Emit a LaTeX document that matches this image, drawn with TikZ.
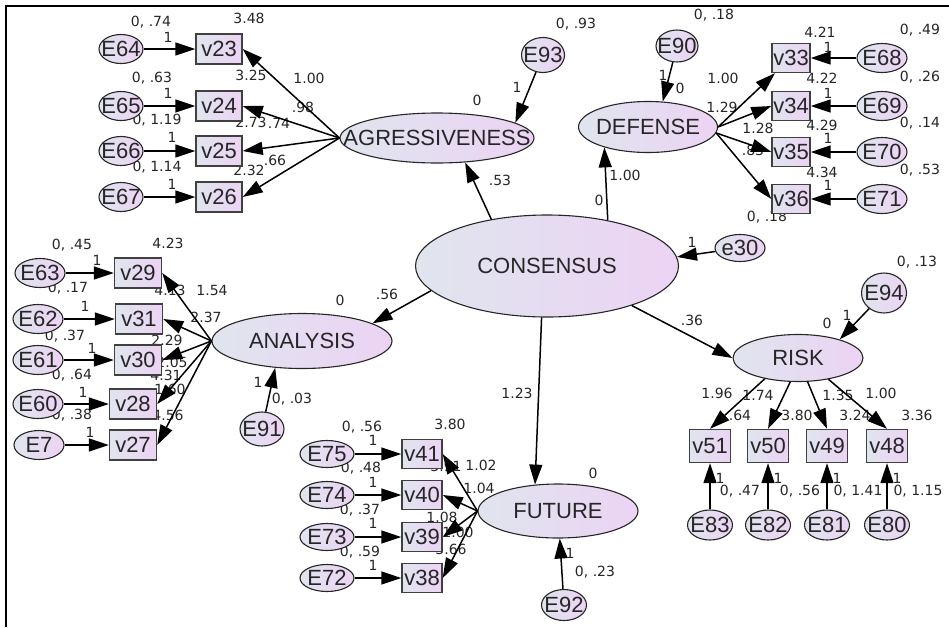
\documentclass[tikz,border=0pt]{standalone}
\usepackage{fontspec}
\setmainfont{Liberation Sans}
\newfontfamily\lblfont{DejaVu Sans}
\usepackage{tikz}
\usetikzlibrary{shapes.geometric, arrows.meta}
\definecolor{fillL}{RGB}{224,229,238}
\definecolor{fillR}{RGB}{236,211,244}
\newcommand{\ctext}[1]{\makebox[0pt]{#1}}

\begin{document}
\begin{tikzpicture}[x=1pt, y=-1pt,
    latent/.style={ellipse, draw=black!85, line width=1.1pt, left color=fillL, right color=fillR, inner sep=0pt, text=black!85, font=\fontsize{22}{22}\selectfont},
    err/.style={ellipse, draw=black!85, line width=1.1pt, left color=fillL, right color=fillR, inner sep=0pt, minimum width=48pt, minimum height=29pt, text=black!85, font=\fontsize{22}{22}\selectfont},
    obs/.style={rectangle, draw=black!75, line width=1.4pt, left color=fillL, right color=fillR, inner sep=0pt, minimum width=44pt, minimum height=30pt, text=black!85, font=\fontsize{22}{22}\selectfont},
    lbl/.style={inner sep=0pt, text=black!85, font=\lblfont\fontsize{14}{14}\selectfont},
    reg/.style={-{Triangle[length=20pt, width=13pt]}, line width=1.5pt}]
    \useasboundingbox (0,0) rectangle (949,627);

    % Frame
    \draw[line width=1.3pt] (6,627) -- (6,6) -- (949,6);

    % Labels
    \node[lbl] (a1) at (151,22) {0, .74};
    \node[lbl] (a2) at (168,37) {1};
    \node[lbl] (a3) at (249,18) {3.48};
    \node[lbl] (a4) at (152,78) {0, .63};
    \node[lbl] (a5) at (168,93) {1};
    \node[lbl] (a6) at (251,75) {3.25};
    \node[lbl] (a7) at (309,78) {1.00};
    \node[lbl] (a8) at (303,107) {.98};
    \node[lbl] (a9) at (157,120) {0, 1.19};
    \node[lbl] (a10) at (172,137) {1};
    \node[lbl] (a11) at (251,122) {2.73};
    \node[lbl] (a12) at (279,123) {.74};
    \node[lbl] (a13) at (157,167) {0, 1.14};
    \node[lbl] (a14) at (172,184) {1};
    \node[lbl] (a15) at (249,170) {2.32};
    \node[lbl] (a16) at (275,160) {.66};
    \node[lbl] (a17) at (477,100) {0};
    \node[lbl] (a18) at (576,24) {0, .93};
    \node[lbl] (a19) at (517,87) {1};
    \node[lbl] (a20) at (500,180) {.53};

    \node[lbl] (d1) at (714,15) {0, .18};
    \node[lbl] (d2) at (663,75) {1};
    \node[lbl] (d3) at (680,88) {0};
    \node[lbl] (d4) at (820,32) {4.21};
    \node[lbl] (d5) at (920,30) {0, .49};
    \node[lbl] (d6) at (828,47) {1};
    \node[lbl] (d7) at (822,78) {4.22};
    \node[lbl] (d8) at (920,77) {0, .26};
    \node[lbl] (d9) at (828,93) {1};
    \node[lbl] (d10) at (822,125) {4.29};
    \node[lbl] (d11) at (920,123) {0, .14};
    \node[lbl] (d12) at (828,138) {1};
    \node[lbl] (d13) at (822,172) {4.34};
    \node[lbl] (d14) at (920,170) {0, .53};
    \node[lbl] (d15) at (828,185) {1};
    \node[lbl] (d16) at (767,217) {0, .18};
    \node[lbl] (d17) at (723,78) {1.00};
    \node[lbl] (d18) at (722,107) {1.29};
    \node[lbl] (d19) at (758,128) {1.28};
    \node[lbl] (d20) at (753,150) {.83};
    \node[lbl] (d21) at (625,175) {1.00};
    \node[lbl] (d22) at (599,200) {0};

    \node[lbl] (n1) at (72,245) {0, .45};
    \node[lbl] (n2) at (97,260) {1};
    \node[lbl] (n3) at (168,243) {4.23};
    \node[lbl] (n4) at (170,290) {4.13};
    \node[lbl] (n5) at (212,290) {1.54};
    \node[lbl] (n6) at (68,288) {0, .17};
    \node[lbl] (n7) at (85,306) {1};
    \node[lbl] (n8) at (206,317) {2.37};
    \node[lbl] (n9) at (65,336) {0, .37};
    \node[lbl] (n10) at (92,348) {1};
    \node[lbl] (n11) at (167,340) {2.29};
    \node[lbl] (n12) at (172,362) {2.05};
    \node[lbl] (n13) at (72,375) {0, .64};
    \node[lbl] (n14) at (83,392) {1};
    \node[lbl] (n15) at (166,375) {4.31};
    \node[lbl] (n16) at (170,389) {1.60};
    \node[lbl] (n17) at (72,415) {0, .38};
    \node[lbl] (n18) at (90,432) {1};
    \node[lbl] (n19) at (168,415) {4.56};
    \node[lbl] (n20) at (340,300) {0};
    \node[lbl] (n21) at (387,294) {.56};
    \node[lbl] (n22) at (258,382) {1};
    \node[lbl] (n23) at (292,399) {0, .03};

    \node[lbl] (f1) at (362,427) {0, .56};
    \node[lbl] (f2) at (450,424) {3.80};
    \node[lbl] (f3) at (373,440) {1};
    \node[lbl] (f4) at (361,468) {0, .48};
    \node[lbl] (f5) at (373,482) {1};
    \node[lbl] (f6) at (446,466) {3.91};
    \node[lbl] (f7) at (481,465) {1.02};
    \node[lbl] (f8) at (479,488) {1.04};
    \node[lbl] (f9) at (360,510) {0, .37};
    \node[lbl] (f10) at (373,523) {1};
    \node[lbl] (f11) at (442,517) {1.08};
    \node[lbl] (f12) at (458,532) {1.00};
    \node[lbl] (f13) at (451,549) {3.66};
    \node[lbl] (f14) at (360,552) {0, .59};
    \node[lbl] (f15) at (373,565) {1};
    \node[lbl] (f16) at (593,473) {0};
    \node[lbl] (f17) at (570,553) {1};
    \node[lbl] (f18) at (595,572) {0, .23};

    \node[lbl] (r1) at (917,262) {0, .13};
    \node[lbl] (r2) at (827,323) {0};
    \node[lbl] (r3) at (847,315) {1};
    \node[lbl] (r4) at (692,320) {.36};
    \node[lbl] (r5) at (717,393) {1.96};
    \node[lbl] (r6) at (758,395) {1.74};
    \node[lbl] (r7) at (838,395) {1.35};
    \node[lbl] (r8) at (881,393) {1.00};
    \node[lbl] (r9) at (740,415) {.64};
    \node[lbl] (r10) at (797,415) {3.80};
    \node[lbl] (r11) at (855,415) {3.24};
    \node[lbl] (r12) at (917,415) {3.36};
    \node[lbl] (r13) at (720,478) {1};
    \node[lbl] (r14) at (778,478) {1};
    \node[lbl] (r15) at (837,478) {1};
    \node[lbl] (r16) at (897,478) {1};
    \node[lbl] (r17) at (740,491) {0, .47};
    \node[lbl] (r18) at (800,491) {0, .56};
    \node[lbl] (r19) at (858,491) {0, 1.41};
    \node[lbl] (r20) at (918,491) {0, 1.15};

    \node[lbl] (c1) at (692,242) {1};
    \node[lbl] (c2) at (517,393) {1.23};

    % Latent variables
    \node[latent, minimum width=263pt, minimum height=102pt] (CONSENSUS) at (547,266) {\ctext{CONSENSUS}};
    \node[latent, minimum width=194pt, minimum height=50pt] (AGRESSIVENESS) at (437,138) {\ctext{AGRESSIVENESS}};
    \node[latent, minimum width=139pt, minimum height=51pt] (DEFENSE) at (648,127) {\ctext{DEFENSE}};
    \node[latent, minimum width=180pt, minimum height=55pt] (ANALYSIS) at (302,341) {\ctext{ANALYSIS}};
    \node[latent, minimum width=160pt, minimum height=54pt] (FUTURE) at (558,511) {\ctext{FUTURE}};
    \node[latent, minimum width=130pt, minimum height=47pt] (RISK) at (798,358) {\ctext{RISK}};

    % Disturbances
    \node[err, minimum width=43pt, minimum height=35pt] (E93) at (543,55) {\ctext{E93}};
    \node[err, minimum width=42pt, minimum height=32pt] (E90) at (677,46) {\ctext{E90}};
    \node[err, minimum width=45pt, minimum height=40pt] (E94) at (884,293) {\ctext{E94}};
    \node[err, minimum width=44pt, minimum height=34pt] (E91) at (262,429) {\ctext{E91}};
    \node[err, minimum width=45pt, minimum height=31pt] (E92) at (564,605) {\ctext{E92}};
    \node[err, minimum width=50pt, minimum height=27pt] (e30) at (740,248) {\ctext{e30}};

    % Indicators and their errors
    \node[obs, minimum width=46pt] (v23) at (219,49) {v23};
    \node[obs, minimum width=46pt] (v24) at (219,106) {v24};
    \node[obs, minimum width=46pt] (v25) at (219,151) {v25};
    \node[obs, minimum width=46pt] (v26) at (219,197) {v26};
    \node[err, minimum width=44pt] (E64) at (121,49) {\ctext{E64}};
    \node[err, minimum width=44pt] (E65) at (121,106) {\ctext{E65}};
    \node[err, minimum width=44pt] (E66) at (121,151) {\ctext{E66}};
    \node[err, minimum width=44pt] (E67) at (121,197) {\ctext{E67}};

    \node[obs, minimum width=38pt, minimum height=29pt] (v33) at (791,58) {\ctext{v33}};
    \node[obs, minimum width=38pt, minimum height=29pt] (v34) at (791,106) {\ctext{v34}};
    \node[obs, minimum width=38pt, minimum height=29pt] (v35) at (791,152) {\ctext{v35}};
    \node[obs, minimum width=38pt, minimum height=29pt] (v36) at (791,199) {\ctext{v36}};
    \node[err, minimum width=50pt] (E68) at (882,58) {\ctext{E68}};
    \node[err, minimum width=50pt] (E69) at (882,106) {\ctext{E69}};
    \node[err, minimum width=50pt] (E70) at (882,152) {\ctext{E70}};
    \node[err, minimum width=50pt] (E71) at (882,199) {\ctext{E71}};

    \node[obs, minimum width=47pt] (v29) at (138,273) {v29};
    \node[obs, minimum width=47pt] (v31) at (139,319) {v31};
    \node[obs, minimum width=47pt] (v30) at (138,360) {v30};
    \node[obs, minimum width=47pt] (v28) at (133,404) {v28};
    \node[obs, minimum width=47pt] (v27) at (133,445) {v27};
    \node[err, minimum width=50pt] (E63) at (40,273) {\ctext{E63}};
    \node[err, minimum width=50pt] (E62) at (38,319) {\ctext{E62}};
    \node[err, minimum width=50pt] (E61) at (38,360) {\ctext{E61}};
    \node[err, minimum width=50pt] (E60) at (38,404) {\ctext{E60}};
    \node[err, minimum width=50pt] (E7) at (39,445) {\ctext{E7}};

    \node[obs, minimum width=40pt, minimum height=29pt] (v41) at (422,454) {\ctext{v41}};
    \node[obs, minimum width=40pt, minimum height=29pt] (v40) at (422,495) {\ctext{v40}};
    \node[obs, minimum width=40pt, minimum height=29pt] (v39) at (422,537) {\ctext{v39}};
    \node[obs, minimum width=40pt, minimum height=29pt] (v38) at (422,578) {\ctext{v38}};
    \node[err, minimum width=54pt, minimum height=27pt] (E75) at (327,454) {\ctext{E75}};
    \node[err, minimum width=54pt, minimum height=27pt] (E74) at (327,495) {\ctext{E74}};
    \node[err, minimum width=54pt, minimum height=27pt] (E73) at (327,537) {\ctext{E73}};
    \node[err, minimum width=54pt, minimum height=27pt] (E72) at (327,578) {\ctext{E72}};

    \node[obs, minimum width=41pt, minimum height=33pt] (v51) at (710,446) {\ctext{v51}};
    \node[obs, minimum width=41pt, minimum height=33pt] (v50) at (768,446) {\ctext{v50}};
    \node[obs, minimum width=41pt, minimum height=33pt] (v49) at (827,446) {\ctext{v49}};
    \node[obs, minimum width=41pt, minimum height=33pt] (v48) at (887,446) {\ctext{v48}};
    \node[err, minimum width=45pt, minimum height=30pt] (E83) at (710,525) {\ctext{E83}};
    \node[err, minimum width=45pt, minimum height=30pt] (E82) at (768,525) {\ctext{E82}};
    \node[err, minimum width=45pt, minimum height=30pt] (E81) at (827,525) {\ctext{E81}};
    \node[err, minimum width=45pt, minimum height=30pt] (E80) at (887,525) {\ctext{E80}};

    % Structural paths
    \draw[reg] (CONSENSUS.140) -- (AGRESSIVENESS.-41);
    \draw[reg] (CONSENSUS.37) -- (DEFENSE.205);
    \draw[reg] (CONSENSUS.192) -- (ANALYSIS.14);
    \draw[reg] (CONSENSUS.264) -- (FUTURE.131);
    \draw[reg] (CONSENSUS.-25) -- (RISK.west);
    \draw[reg] (e30) -- (CONSENSUS.4);
    \draw[reg] (E93) -- (AGRESSIVENESS.11);
    \draw[reg] (E90) -- (DEFENSE.60);
    \draw[reg] (E91) -- (ANALYSIS.225);
    \draw[reg] (E92) -- (FUTURE);
    \draw[reg] (E94) -- (RISK.24);

    % Measurement paths
    \draw[reg] (AGRESSIVENESS.west) -- (v23.east);
    \draw[reg] (AGRESSIVENESS.west) -- (v24.east);
    \draw[reg] (AGRESSIVENESS.west) -- (v25.east);
    \draw[reg] (AGRESSIVENESS.west) -- (v26.east);
    \draw[reg] (E64) -- (v23);
    \draw[reg] (E65) -- (v24);
    \draw[reg] (E66) -- (v25);
    \draw[reg] (E67) -- (v26);

    \draw[reg] (DEFENSE.east) -- (v33);
    \draw[reg] (DEFENSE.east) -- (v34.west);
    \draw[reg] (DEFENSE.-5) -- (v35.west);
    \draw[reg] (DEFENSE.-5) -- (v36.west);
    \draw[reg] (E68) -- (v33);
    \draw[reg] (E69) -- (v34);
    \draw[reg] (E70) -- (v35);
    \draw[reg] (E71) -- (v36);

    \draw[reg] (ANALYSIS.west) -- (v29.east);
    \draw[reg] (ANALYSIS.west) -- (v31.east);
    \draw[reg] (ANALYSIS.west) -- (v30.east);
    \draw[reg] (ANALYSIS.west) -- (v28.east);
    \draw[reg] (ANALYSIS.west) -- (v27.east);
    \draw[reg] (E63) -- (v29);
    \draw[reg] (E62) -- (v31);
    \draw[reg] (E61) -- (v30);
    \draw[reg] (E60) -- (v28);
    \draw[reg] (E7) -- (v27);

    \draw[reg] (FUTURE.west) -- (v41.east);
    \draw[reg] (FUTURE.west) -- (v40.east);
    \draw[reg] (FUTURE.west) -- (v39.east);
    \draw[reg] (FUTURE.west) -- (v38.east);
    \draw[reg] (E75) -- (v41);
    \draw[reg] (E74) -- (v40);
    \draw[reg] (E73) -- (v39);
    \draw[reg] (E72) -- (v38);

    \draw[reg] (RISK.212) -- (v51.north);
    \draw[reg] (RISK.252) -- (v50.north);
    \draw[reg] (RISK.292) -- (v49.north);
    \draw[reg] (RISK.325) -- (v48.north);
    \draw[reg] (E83) -- (v51);
    \draw[reg] (E82) -- (v50);
    \draw[reg] (E81) -- (v49);
    \draw[reg] (E80) -- (v48);
\end{tikzpicture}
\end{document}
